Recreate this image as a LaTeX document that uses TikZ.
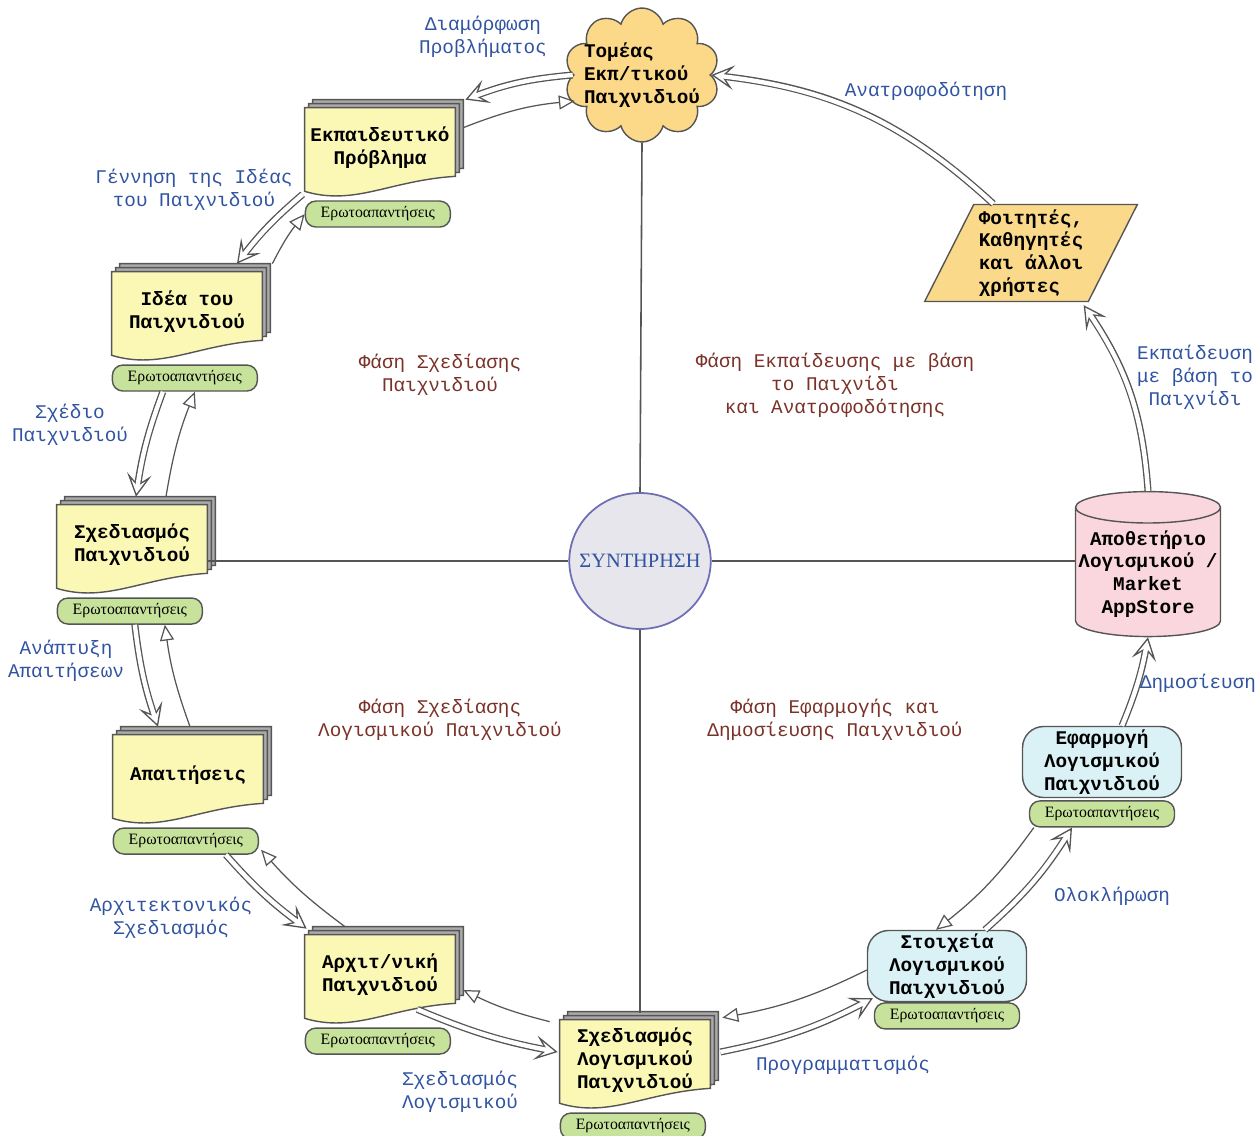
\documentclass[tikz,border=0pt]{standalone}
\usepackage{fontspec}
\setmainfont{Liberation Mono}
\newfontfamily\qafont{Liberation Serif}
\usetikzlibrary{positioning,shapes.geometric,shapes.symbols,arrows.meta,calc,backgrounds}

\definecolor{linec}{RGB}{85,85,85}
\definecolor{docyellow}{RGB}{251,248,182}
\definecolor{sheetgray}{RGB}{170,170,170}
\definecolor{qagreen}{RGB}{198,226,155}
\definecolor{softcyan}{RGB}{218,242,245}
\definecolor{cloudorange}{RGB}{252,216,137}
\definecolor{usersorange}{RGB}{250,217,139}
\definecolor{storepink}{RGB}{250,214,222}
\definecolor{synthgray}{RGB}{230,230,236}
\definecolor{synthblue}{RGB}{110,110,180}
\definecolor{labelblue}{RGB}{48,84,160}
\definecolor{phasered}{RGB}{122,50,40}

% one sheet of a document stack: node, offset, fill
\newcommand\docsheet[3]{%
    \draw[draw=linec, line width=0.8pt, fill=#3]
        ($(#1.north west)+(#2,-#2)$) -- ($(#1.north east)+(#2,-#2)$)
        -- ($(#1.south east)+(#2,-12-#2)$)
        .. controls ($(#1.south)+(10+#2,-8-#2)$) and ($(#1.south west)+(50+#2,18-#2)$)
        .. ($(#1.south west)+(#2,3-#2)$) -- cycle;}

\begin{document}
\begin{tikzpicture}[
        x=0.02cm, y=-0.02cm,
        every node/.style={font=\fontsize{11}{13}\selectfont},
        bold/.style={font=\fontsize{11}{13}\selectfont\bfseries},
        doc/.style={bold, minimum width=3cm, minimum height=1.6cm, inner sep=1pt, align=center},
        qa/.style={draw=linec, line width=0.8pt, fill=qagreen, rounded corners=6pt, minimum width=2.9cm, minimum height=0.52cm, inner sep=0pt, font=\qafont\fontsize{9}{10}\selectfont},
        soft/.style={bold, draw=linec, line width=0.8pt, fill=softcyan, rounded corners=12pt, minimum width=3.18cm, minimum height=1.42cm, inner sep=1pt, align=center},
        cloudnode/.style={bold, cloud, cloud puffs=10, aspect=1.25, draw=linec, line width=0.8pt, fill=cloudorange, minimum width=3.1cm, minimum height=2.4cm, inner sep=-6pt, align=left},
        store/.style={bold, cylinder, shape border rotate=90, aspect=0.22, draw=linec, line width=0.8pt, fill=storepink, minimum width=2.9cm, minimum height=2.9cm, inner sep=1pt, align=center},
        users/.style={bold, trapezium, trapezium left angle=63, trapezium right angle=117, trapezium stretches=true, draw=linec, line width=0.8pt, fill=usersorange, minimum width=4.26cm, minimum height=1.94cm, inner sep=1pt, align=left},
        synth/.style={ellipse, draw=synthblue, line width=1pt, fill=synthgray, minimum width=2.8cm, minimum height=2.72cm, inner sep=-6pt, text=labelblue, font=\qafont\fontsize{11.6}{13}\selectfont},
        flowtext/.style={text=labelblue, align=center},
        phase/.style={text=phasered, align=center},
        fwd/.style={draw=linec, line width=4pt,
            -{Stealth[open, fill=white, length=13pt, width=14pt, inset=6pt, line width=0.75pt]},
            postaction={draw=white, line width=2.5pt, -, shorten >=5pt}},
        back/.style={draw=linec, line width=0.7pt, -{Triangle[open, length=9pt, width=8pt]}},
        crossline/.style={draw=linec, line width=0.9pt},
    ]
    \useasboundingbox (0,0) rectangle (1256,1135);

    % centre and the four phases
    \node[synth] (synt) at (640,561) {ΣΥΝΤΗΡΗΣΗ};
    \node[cloudnode] (cloud) at (642,75) {Τομέας\\Εκπ/τικού\\Παιχνιδιού};

    % design of the game
    \node[doc] (problem) at (380,148) {Εκπαιδευτικό\\Πρόβλημα};
    \node[qa, below right=0.24cm and 0pt of problem.south west] (problemqa) {Ερωτοαπαντήσεις};
    \node[doc] (idea) at (187,312) {Ιδέα του\\Παιχνιδιού};
    \node[qa, below right=0.24cm and 0pt of idea.south west] (ideaqa) {Ερωτοαπαντήσεις};
    \node[doc] (gamedesign) at (132,545) {Σχεδιασμός\\Παιχνιδιού};
    \node[qa, below right=0.24cm and 0pt of gamedesign.south west] (gamedesignqa) {Ερωτοαπαντήσεις};

    % design of the software
    \node[doc] (reqs) at (188,775) {Απαιτήσεις};
    \node[qa, below right=0.24cm and 0pt of reqs.south west] (reqsqa) {Ερωτοαπαντήσεις};
    \node[doc] (arch) at (380,975) {Αρχιτ/νική\\Παιχνιδιού};
    \node[qa, below right=0.24cm and 0pt of arch.south west] (archqa) {Ερωτοαπαντήσεις};
    \node[doc] (swdesign) at (635,1060) {Σχεδιασμός\\Λογισμικού\\Παιχνιδιού};
    \node[qa, below right=0.24cm and 0pt of swdesign.south west] (swdesignqa) {Ερωτοαπαντήσεις};

    % implementation and release
    \node[soft] (parts) at (947,966) {Στοιχεία\\Λογισμικού\\Παιχνιδιού};
    \node[qa, below=0pt of parts] (partsqa) {Ερωτοαπαντήσεις};
    \node[soft] (app) at (1102,762) {Εφαρμογή\\Λογισμικού\\Παιχνιδιού};
    \node[qa, below=0.04cm of app] (appqa) {Ερωτοαπαντήσεις};
    \node[store] (store) at (1148,574) {Αποθετήριο\\Λογισμικού /\\Market\\AppStore};
    \node[users] (users) at (1031,253) {Φοιτητές,\\Καθηγητές\\και άλλοι\\χρήστες};

    \begin{scope}[on background layer]
        \foreach \n in {problem,idea,gamedesign,reqs,arch,swdesign}{
            \docsheet{\n}{8}{sheetgray}
            \docsheet{\n}{4}{sheetgray}
            \docsheet{\n}{0}{docyellow}
        }
    \end{scope}

    \draw[crossline] (cloud.south) -- (synt.north);
    \draw[crossline, shorten >=4pt] (synt.south) -- (synt.south |- swdesign.north);
    \draw[crossline] (synt.west -| gamedesign.east) -- (synt.west);
    \draw[crossline] (synt.east) -- (synt.east -| store.west);

    % arrows of the cycle
    \draw[fwd] (cloud.west) to[bend right=8] ($(problem.north east)+(10,-8)$);
    \draw[back] ($(problem.north east)+(8,20)$) to[bend left=8] ($(cloud.west)+(2,26)$);
    \draw[fwd] ($(problem.south west)+(-2,6)$) to[bend right=6] ($(idea.north)+(50,-8)$);
    \draw[back] ($(idea.north east)+(10,-8)$) to[bend left=6] (problemqa.west);
    \draw[fwd] ($(ideaqa.south)+(-22,0)$) to[bend right=6] ($(gamedesign.north)+(4,-8)$);
    \draw[back] ($(gamedesign.north)+(34,-8)$) to[bend left=6] ($(ideaqa.south)+(10,0)$);
    \draw[fwd] ($(gamedesignqa.south)+(5,0)$) to[bend right=6] ($(reqs.north)+(-30,-8)$);
    \draw[back] ($(reqs.north)+(2,-8)$) to[bend left=6] ($(gamedesignqa.south)+(35,0)$);
    \draw[fwd] ($(reqsqa.south)+(40,0)$) to[bend right=6] ($(arch.north west)+(2,-6)$);
    \draw[back] ($(arch.north)+(-35,-8)$) to[bend left=6] ($(reqsqa.south east)+(2,-5)$);
    \draw[fwd] ($(arch.south east)+(-38,-6)$) to[bend right=6] ($(swdesign.west)+(-2,-8)$);
    \draw[back] ($(swdesign.north west)+(-10,2)$) to[bend left=6] ($(arch.east)+(8,15)$);
    \draw[fwd] ($(swdesign.east)+(10,-8)$) to[bend right=8] ($(parts.south west)+(6,-4)$);
    \draw[back] ($(parts.west)+(0,4)$) to[bend left=8] ($(swdesign.north east)+(12,-2)$);
    \draw[fwd] ($(parts.north)+(38,0)$) to[bend right=8] ($(appqa.south)+(-30,0)$);
    \draw[back] ($(appqa.south west)+(5,0)$) to[bend left=8] ($(parts.north)+(-11,0)$);
    \draw[fwd] ($(app.north)+(20,0)$) to[bend right=6] (store.south);
    \draw[fwd] (store.north) to[bend right=15] ($(users.bottom right corner)+(-5,3)$);
    \draw[fwd] ($(users.top left corner)+(20,0)$) to[bend right=18] (cloud.east);

    % names of the steps
    \node[flowtext] (formtxt) at (483,37) {Διαμόρφωση\\Προβλήματος};
    \node[flowtext] (birthtxt) at (194,190) {Γέννηση της Ιδέας\\του Παιχνιδιού};
    \node[flowtext] (plantxt) at (70,425) {Σχέδιο\\Παιχνιδιού};
    \node[flowtext] (reqstxt) at (66,661) {Ανάπτυξη\\Απαιτήσεων};
    \node[flowtext] (archtxt) at (171,918) {Αρχιτεκτονικός\\Σχεδιασμός};
    \node[flowtext] (swtxt) at (460,1092) {Σχεδιασμός\\Λογισμικού};
    \node[flowtext] (codetxt) at (843,1065) {Προγραμματισμός};
    \node[flowtext] (integtxt) at (1112,896) {Ολοκλήρωση};
    \node[flowtext] (pubtxt) at (1198,683) {Δημοσίευση};
    \node[flowtext] (teachtxt) at (1195,377) {Εκπαίδευση\\με βάση το\\Παιχνίδι};
    \node[flowtext] (feedtxt) at (926,91) {Ανατροφοδότηση};

    % names of the phases
    \node[phase] (phase1) at (440,375) {Φάση Σχεδίασης\\Παιχνιδιού};
    \node[phase] (phase2) at (835,385) {Φάση Εκπαίδευσης με βάση\\το Παιχνίδι\\και Ανατροφοδότησης};
    \node[phase] (phase3) at (440,720) {Φάση Σχεδίασης\\Λογισμικού Παιχνιδιού};
    \node[phase] (phase4) at (835,720) {Φάση Εφαρμογής και\\Δημοσίευσης Παιχνιδιού};
\end{tikzpicture}
\end{document}
